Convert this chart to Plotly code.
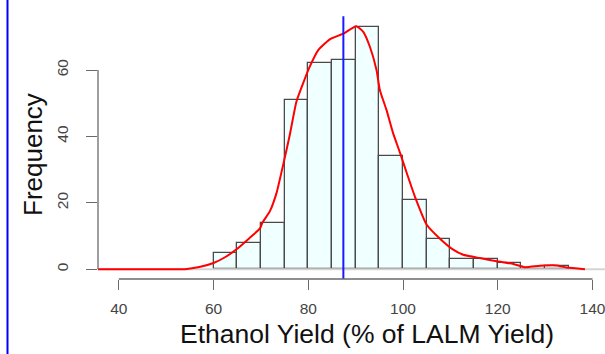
import plotly.graph_objects as go

# Histogram data (bin width 5)
bin_left = [60, 65, 70, 75, 80, 85, 90, 95, 100, 105, 110, 115, 120, 125, 130]
counts = [5, 8, 14, 51, 62, 63, 73, 34, 21, 9, 3, 3, 2, 0, 1]
bin_width = 5

# Density curve (scaled to frequency)
dens_x = [35.6, 45, 54.0, 57.0, 60.0, 62.5, 65.0, 67.5, 69.8, 70.3, 71.9, 73.3, 74.7, 76.1,
          77.5, 78.9, 80.4, 82.1, 84.6, 87.5, 90.1, 91.6, 93.0, 94.4, 95.1, 96.5, 97.9,
          99.4, 100.8, 102.5, 105.0, 107.8, 110.5, 112.7, 116.2, 119.8, 123.3, 125.7,
          128.9, 132.4, 134.5, 138.4]
dens_y = [0, 0, 0.05, 0.7, 1.9, 3.7, 6.2, 9.3, 12.3, 14, 17.5, 23, 31.5, 40.5,
          50.5, 56.0, 61.3, 66.0, 69.3, 71.0, 73.2, 71.5, 67.0, 60.0, 54.0, 48.0, 41.0,
          34.9, 28.9, 21.9, 13.4, 9.2, 6.0, 4.4, 3.4, 2.4, 1.6, 0.65,
          1.05, 1.15, 0.55, 0.05]

mean_value = 87.4
mean_line_top = 76.2

x_ticks = [40, 60, 80, 100, 120, 140]
y_ticks = [0, 20, 40, 60]

x_title = "Ethanol Yield (% of LALM Yield)"
y_title = "Frequency"

W, H = 605, 354
ML, MB = 98, 75
plot_w = W - ML
plot_h = H - MB

AX = "#6a6a6a"
TXT = "#444444"
FONT = "Liberation Sans, Arial, sans-serif"

fig = go.Figure()

# gray baseline at 0
fig.add_trace(go.Scatter(x=[dens_x[0], 142.6], y=[0, 0], mode="lines",
                         line=dict(color="#d4d4d4", width=2), hoverinfo="skip",
                         showlegend=False))

fig.add_trace(go.Bar(x=[b + bin_width / 2 for b in bin_left], y=counts, width=bin_width,
                     marker=dict(color="#f0ffff", line=dict(color="#4a4a4a", width=1.3)),
                     showlegend=False))

fig.add_trace(go.Scatter(x=dens_x, y=dens_y, mode="lines",
                         line=dict(color="#ff0000", width=2, shape="spline", smoothing=0.5),
                         showlegend=False))

# mean line
fig.add_shape(type="line", xref="x", yref="y", x0=mean_value, x1=mean_value,
              y0=-2.92, y1=mean_line_top, line=dict(color="#1a1aff", width=2))

# x axis line (40-140) and y axis line (0-60)
fig.add_shape(type="line", xref="x", yref="paper", x0=x_ticks[0], x1=x_ticks[-1],
              y0=0, y1=0, line=dict(color=AX, width=1.3))
fig.add_shape(type="line", xref="paper", yref="y", x0=0, x1=0,
              y0=y_ticks[0], y1=y_ticks[-1], line=dict(color=AX, width=1.3))

# left blue border
fig.add_shape(type="line", xref="paper", yref="paper", x0=(7.5 - ML) / plot_w,
              x1=(7.5 - ML) / plot_w, y0=-MB / plot_h, y1=1.0,
              line=dict(color="#0000ff", width=2))

fig.add_annotation(text=x_title, xref="paper", yref="paper",
                   x=(367 - ML) / plot_w, y=(plot_h - 334) / plot_h,
                   xanchor="center", yanchor="middle", showarrow=False,
                   font=dict(family=FONT, size=26.5, color="#111111"))
fig.add_annotation(text=y_title, xref="paper", yref="paper",
                   x=(33 - ML) / plot_w, y=(plot_h - 155) / plot_h, textangle=-90,
                   xanchor="center", yanchor="middle", showarrow=False,
                   font=dict(family=FONT, size=26, color="#111111"))

fig.update_layout(
    width=W, height=H,
    margin=dict(l=ML, r=0, t=0, b=MB, pad=0),
    paper_bgcolor="white", plot_bgcolor="white",
    bargap=0,
    xaxis=dict(range=[35.61, 35.61 + plot_w / 4.7375], tickvals=x_ticks,
               ticks="outside", ticklen=10, tickwidth=1.3, tickcolor=AX,
               showline=False, showgrid=False, zeroline=False,
               tickfont=dict(family=FONT, size=15.5, color=TXT),
               ticklabelstandoff=5, ticklabeloverflow="allow"),
    yaxis=dict(range=[-2.92, -2.92 + plot_h / 3.3217], tickvals=y_ticks,
               ticks="outside", ticklen=11, tickwidth=1.3, tickcolor=AX,
               tickangle=-90,
               showline=False, showgrid=False, zeroline=False,
               tickfont=dict(family=FONT, size=15.5, color=TXT),
               ticklabelstandoff=12),
)

fig.write_html("out.html", config={"displayModeBar": False},
               post_script="document.body.style.margin='0';document.body.style.padding='0';")
